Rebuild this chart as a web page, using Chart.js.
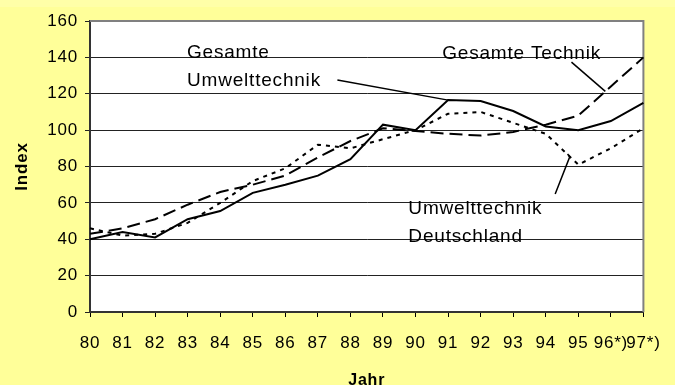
<!DOCTYPE html>
<html lang="de">
<head>
<meta charset="utf-8">
<title>Index Umwelttechnik</title>
<script src="https://cdn.jsdelivr.net/npm/chart.js@4.4.1/dist/chart.umd.min.js"></script>
<style>
  html, body { margin: 0; padding: 0; overflow: hidden; background: #ffff99; }
  #wrap { width: 675px; height: 392px; }
</style>
</head>
<body>
<div id="wrap"><canvas id="chart" width="675" height="392"></canvas></div>
<script>
// Jahre 1980-1997, 96 und 97 geschaetzt
const years = ["80", "81", "82", "83", "84", "85", "86", "87", "88", "89",
  "90", "91", "92", "93", "94", "95", "96*)", "97*)"];

// Index-Werte je Reihe
const umweltGesamt = [40, 44, 41, 51, 55.5, 65.5, 70, 75, 84, 103,
  100, 116.5, 116, 110.5, 102, 100, 105, 115];
const technikGesamt = [43, 46, 51, 59, 66, 70, 75, 85, 94, 101,
  99.5, 98, 97, 99, 103, 108, 124, 140];
const umweltDeutschland = [46, 42, 43, 49, 60, 72, 79, 92, 90, 95,
  100, 109, 110, 104, 98, 81, 90, 101];

const yTicks = { min: 0, max: 160, step: 20 };

Chart.defaults.font.family = '"Liberation Sans", Arial, sans-serif';
Chart.defaults.color = "#000";

const SPACING = "0.8px";

// wert einer reihe an einer zwischenstelle (fuer die hinweislinien)
function along(series, t) {
  const i = Math.floor(t);
  return series[i] + (series[i + 1] - series[i]) * (t - i);
}

const frame = {
  id: "frame",
  beforeDraw(chart) {
    const { ctx, chartArea: a } = chart;
    ctx.save();
    ctx.fillStyle = "#ffff99";
    ctx.fillRect(0, 0, chart.width, chart.height);
    ctx.fillStyle = "#ffffa8";
    ctx.fillRect(0, 0, chart.width, 7);
    ctx.fillStyle = "#ffffff";
    ctx.fillRect(a.left, a.top, a.right - a.left, a.bottom - a.top);
    ctx.restore();
    ctx.letterSpacing = SPACING;
  },
  beforeDatasetsDraw(chart) {
    const { ctx, chartArea: a } = chart;
    ctx.save();
    ctx.strokeStyle = "#808080";
    ctx.lineWidth = 2;
    ctx.beginPath();
    ctx.moveTo(a.left, a.top);
    ctx.lineTo(a.right, a.top);
    ctx.lineTo(a.right, a.bottom);
    ctx.stroke();
    ctx.restore();
  },
  afterDatasetsDraw(chart) {
    const { ctx } = chart;
    const sx = chart.scales.x, sy = chart.scales.y;
    const P = (i, v) => [sx.getPixelForValue(i), sy.getPixelForValue(v)];

    ctx.save();
    ctx.letterSpacing = SPACING;
    ctx.fillStyle = "#000";
    ctx.font = '19px "Liberation Sans", Arial, sans-serif';
    ctx.textAlign = "left";
    ctx.textBaseline = "middle";
    const text = (s, i, v) => { const p = P(i, v); ctx.fillText(s, p[0], p[1]); };
    text("Gesamte", 2.98, 142.5);
    text("Umwelttechnik", 2.98, 127.3);
    text("Gesamte Technik", 10.82, 142);
    text("Umwelttechnik", 9.78, 56.6);
    text("Deutschland", 9.78, 41.4);

    ctx.strokeStyle = "#000";
    ctx.lineWidth = 1.5;
    const line = (pts) => {
      ctx.beginPath();
      pts.forEach((p, k) => k ? ctx.lineTo(p[0], p[1]) : ctx.moveTo(p[0], p[1]));
      ctx.stroke();
    };
    line([P(7.6, 127.5), P(11, umweltGesamt[11])]);
    line([P(14.79, 137.4), P(15.83, along(technikGesamt, 15.83))]);
    const tD = 14.74;
    line([P(14.29, 64.9), P(tD, along(umweltDeutschland, tD)),
      P(tD - 0.07, along(umweltDeutschland, tD) + 1.5)]);
    ctx.restore();
  }
};

new Chart(document.getElementById("chart"), {
  type: "line",
  data: {
    labels: years,
    datasets: [
      { label: "Gesamte Umwelttechnik", data: umweltGesamt,
        borderColor: "#000", borderWidth: 2, pointRadius: 0, tension: 0 },
      { label: "Gesamte Technik", data: technikGesamt,
        borderColor: "#000", borderWidth: 2, borderDash: [13, 6], pointRadius: 0, tension: 0 },
      { label: "Umwelttechnik Deutschland", data: umweltDeutschland,
        borderColor: "#000", borderWidth: 2, borderDash: [4, 5], pointRadius: 0, tension: 0 }
    ]
  },
  options: {
    responsive: false,
    animation: false,
    layout: { padding: { top: 21, right: 20, left: 0, bottom: 0 } },
    plugins: { legend: { display: false }, tooltip: { enabled: false } },
    scales: {
      x: {
        offset: false,
        grid: { drawOnChartArea: false, drawTicks: true, tickLength: 5, color: "#000" },
        border: { color: "#333", width: 2 },
        ticks: { padding: 16, maxRotation: 0, autoSkip: false, font: { size: 17 } },
        title: { display: true, text: "Jahr", font: { size: 16, weight: "bold" },
          padding: { top: 0, bottom: 2 } },
        afterFit(s) { s.height = 80; }
      },
      y: {
        min: yTicks.min,
        max: yTicks.max,
        ticks: { stepSize: yTicks.step, padding: 7, font: { size: 17 } },
        grid: { color: "#222", lineWidth: 1, tickLength: 5 },
        border: { color: "#333", width: 2 },
        title: { display: true, text: "Index", font: { size: 17, weight: "bold" },
          padding: { top: 12, bottom: 0 } },
        afterFit(s) { s.width = 90; }
      }
    }
  },
  plugins: [frame]
});
</script>
</body>
</html>
